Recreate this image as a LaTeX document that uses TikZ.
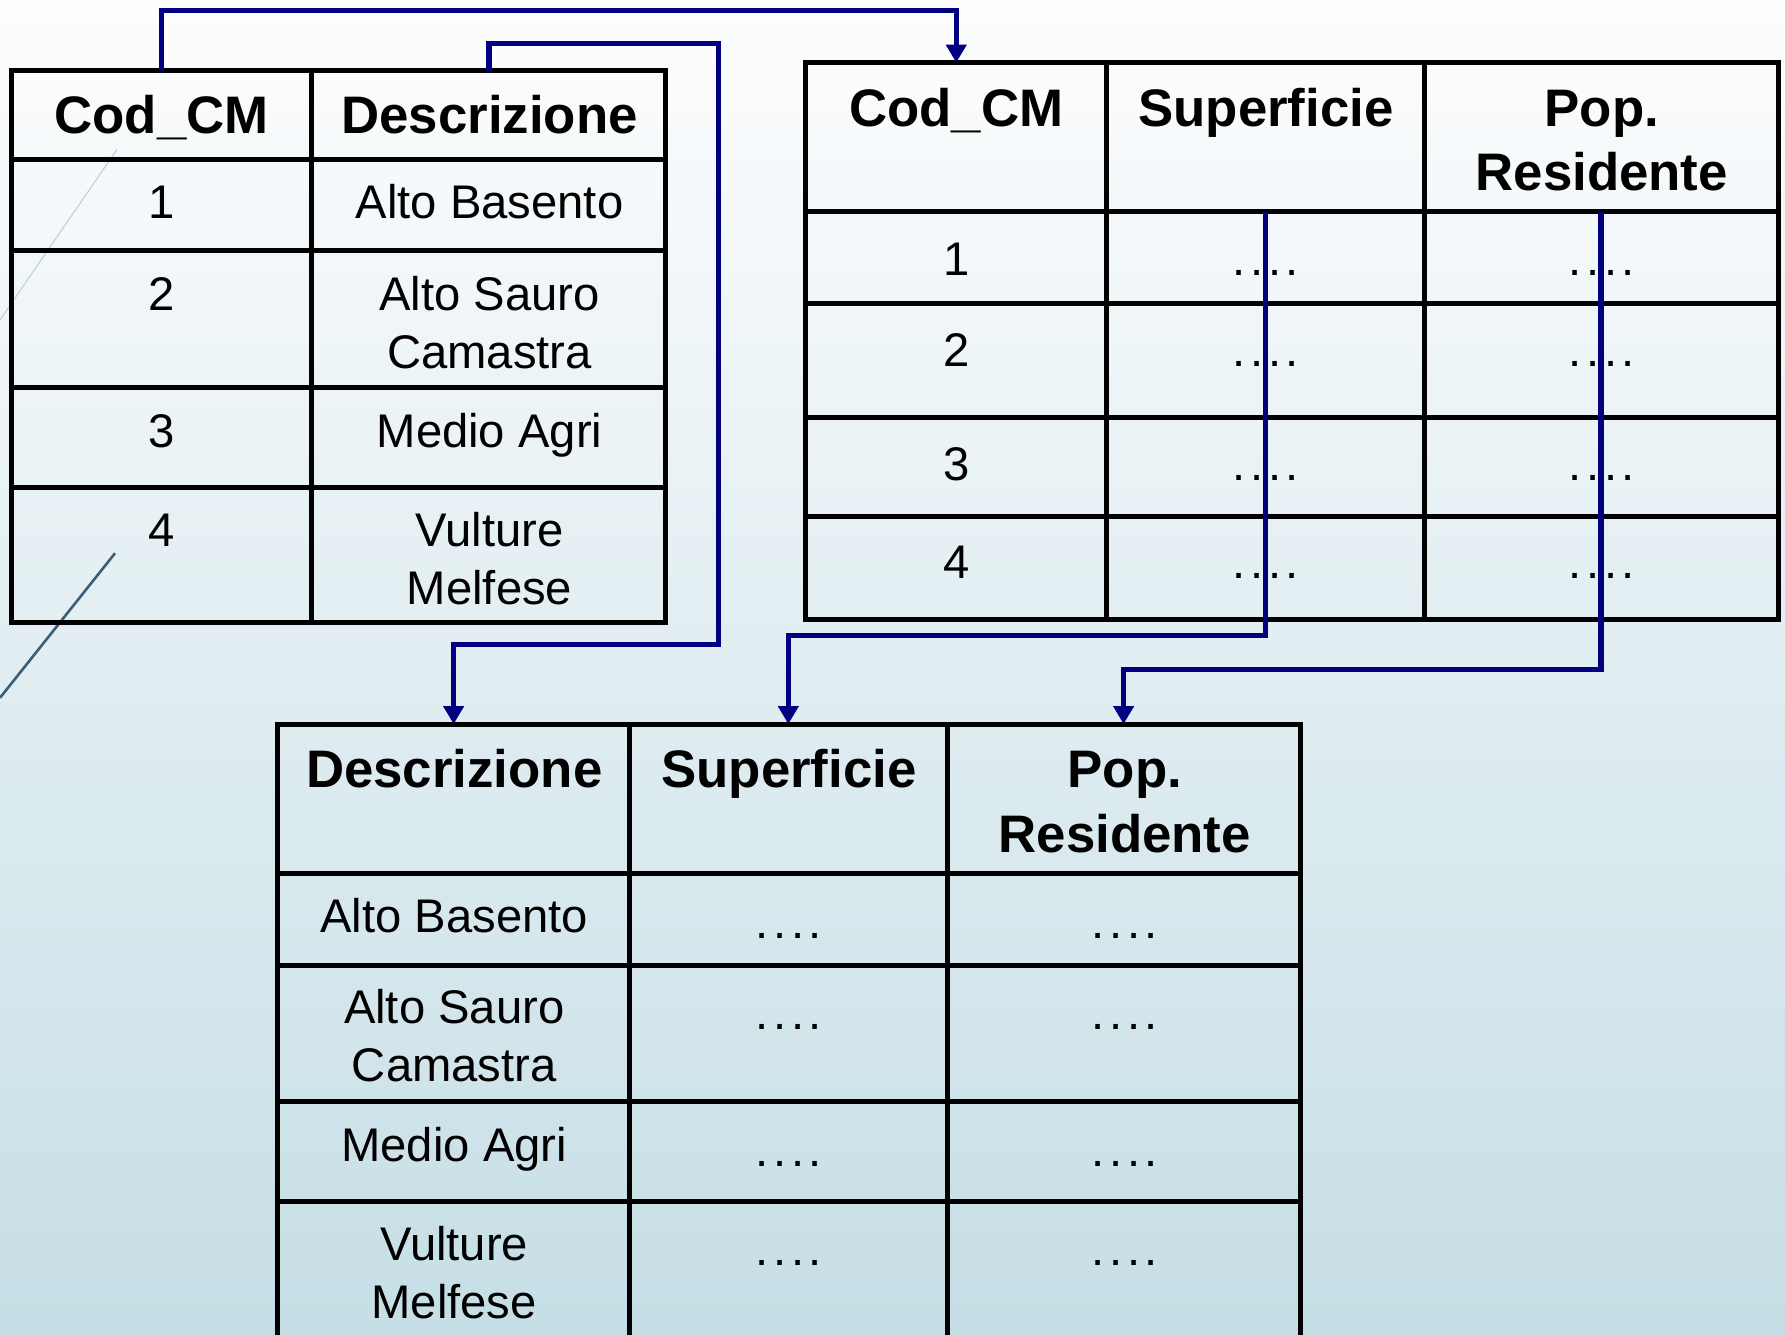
\documentclass[tikz,border=0pt]{standalone}
\usepackage{fontspec}
\setmainfont{Liberation Sans}
\usetikzlibrary{arrows.meta}
\definecolor{navyline}{RGB}{0,0,128}
\definecolor{bgtop}{RGB}{253,253,254}
\definecolor{bgbot}{RGB}{197,222,229}
\definecolor{decoA}{RGB}{196,210,220}
\definecolor{decoB}{RGB}{58,94,118}
\newcommand\regfont{\fontsize{23.6pt}{28pt}\selectfont}
\newcommand\hdrfont{\fontsize{26.4pt}{31pt}\selectfont\bfseries}
\newcommand\fourdots{.\kern2.3pt.\kern2.3pt.\kern2.3pt.}
\newcommand\tcell[5]{\node[cell, minimum width={(#4-#2)*0.5692pt}, minimum height={(#5-#3)*0.5692pt}] (#1) at ({(#2+#4)/2},{(#3+#5)/2}) {};}
\begin{document}
\begin{tikzpicture}[x=0.5692pt, y=-0.5692pt,
  cell/.style={draw=black, line width=2.5pt, rectangle, inner sep=0pt, outer sep=0pt},
  tx/.style={anchor=base, inner sep=0pt, font=\regfont},
  hd/.style={anchor=base, inner sep=0pt, font=\hdrfont},
  conn/.style={draw=navyline, line width=2.7pt, line join=miter, -{Triangle[width=10pt,length=9pt]}}]
\useasboundingbox (0,0) rectangle (1568,1172);
\clip (0,0) rectangle (1568,1172);
\fill[top color=bgtop, bottom color=bgbot] (0,0) rectangle (1568,1172);
% decorative slide lines
\draw[decoA, line width=0.6pt] (103,131) -- (0,281);
\draw[decoB, line width=1.3pt] (101,486) -- (0,613);
% ---------- Table 1 ----------
\tcell{t1h1}{10}{62}{274}{140}
\tcell{t1h2}{274}{62}{585}{140}
\tcell{t1r1a}{10}{140}{274}{220}
\tcell{t1r1b}{274}{140}{585}{220}
\tcell{t1r2a}{10}{220}{274}{340}
\tcell{t1r2b}{274}{220}{585}{340}
\tcell{t1r3a}{10}{340}{274}{428}
\tcell{t1r3b}{274}{340}{585}{428}
\tcell{t1r4a}{10}{428}{274}{547}
\tcell{t1r4b}{274}{428}{585}{547}
\node[hd] (t1h1x) at (142,117) {Cod\_CM};
\node[hd] (t1h2x) at (430,117) {Descrizione};
\node[tx] (t1r1ax) at (142,192) {1};
\node[tx] (t1r1bx) at (430,192) {Alto Basento};
\node[tx] (t1r2ax) at (142,273) {2};
\node[tx] (t1r2bx) at (430,273) {Alto Sauro};
\node[tx] (t1r2by) at (430,324) {Camastra};
\node[tx] (t1r3ax) at (142,393) {3};
\node[tx] (t1r3bx) at (430,393) {Medio Agri};
\node[tx] (t1r4ax) at (142,480) {4};
\node[tx] (t1r4bx) at (430,480) {Vulture};
\node[tx] (t1r4by) at (430,531) {Melfese};
% ---------- Table 2 ----------
\tcell{t2h1}{708}{55}{972}{186}
\tcell{t2h2}{972}{55}{1251}{186}
\tcell{t2h3}{1251}{55}{1562}{186}
\tcell{t2r1a}{708}{186}{972}{267}
\tcell{t2r1b}{972}{186}{1251}{267}
\tcell{t2r1c}{1251}{186}{1562}{267}
\tcell{t2r2a}{708}{267}{972}{367}
\tcell{t2r2b}{972}{267}{1251}{367}
\tcell{t2r2c}{1251}{267}{1562}{367}
\tcell{t2r3a}{708}{367}{972}{454}
\tcell{t2r3b}{972}{367}{1251}{454}
\tcell{t2r3c}{1251}{367}{1562}{454}
\tcell{t2r4a}{708}{454}{972}{544}
\tcell{t2r4b}{972}{454}{1251}{544}
\tcell{t2r4c}{1251}{454}{1562}{544}
\node[hd] (t2h1x) at (840,111) {Cod\_CM};
\node[hd] (t2h2x) at (1112,111) {Superficie};
\node[hd] (t2h3x) at (1407,111) {Pop.};
\node[hd] (t2h3y) at (1407,167) {Residente};
\node[tx] (t2r1ax) at (840,242) {1};
\node[tx] (t2r1bx) at (1112,242) {\fourdots};
\node[tx] (t2r1cx) at (1407,242) {\fourdots};
\node[tx] (t2r2ax) at (840,322) {2};
\node[tx] (t2r2bx) at (1112,322) {\fourdots};
\node[tx] (t2r2cx) at (1407,322) {\fourdots};
\node[tx] (t2r3ax) at (840,422) {3};
\node[tx] (t2r3bx) at (1112,422) {\fourdots};
\node[tx] (t2r3cx) at (1407,422) {\fourdots};
\node[tx] (t2r4ax) at (840,508) {4};
\node[tx] (t2r4bx) at (1112,508) {\fourdots};
\node[tx] (t2r4cx) at (1407,508) {\fourdots};
% ---------- Table 3 ----------
\tcell{t3h1}{244}{636}{553}{767}
\tcell{t3h2}{553}{636}{832}{767}
\tcell{t3h3}{832}{636}{1142}{767}
\tcell{t3r1a}{244}{767}{553}{848}
\tcell{t3r1b}{553}{767}{832}{848}
\tcell{t3r1c}{832}{767}{1142}{848}
\tcell{t3r2a}{244}{848}{553}{968}
\tcell{t3r2b}{553}{848}{832}{968}
\tcell{t3r2c}{832}{848}{1142}{968}
\tcell{t3r3a}{244}{968}{553}{1055}
\tcell{t3r3b}{553}{968}{832}{1055}
\tcell{t3r3c}{832}{968}{1142}{1055}
\tcell{t3r4a}{244}{1055}{553}{1200}
\tcell{t3r4b}{553}{1055}{832}{1200}
\tcell{t3r4c}{832}{1055}{1142}{1200}
\node[hd] (t3h1x) at (399,692) {Descrizione};
\node[hd] (t3h2x) at (693,692) {Superficie};
\node[hd] (t3h3x) at (988,692) {Pop.};
\node[hd] (t3h3y) at (988,749) {Residente};
\node[tx] (t3r1ax) at (399,819) {Alto Basento};
\node[tx] (t3r1bx) at (693,824) {\fourdots};
\node[tx] (t3r1cx) at (988,824) {\fourdots};
\node[tx] (t3r2ax) at (399,899) {Alto Sauro};
\node[tx] (t3r2ay) at (399,950) {Camastra};
\node[tx] (t3r2bx) at (693,904) {\fourdots};
\node[tx] (t3r2cx) at (988,904) {\fourdots};
\node[tx] (t3r3ax) at (399,1020) {Medio Agri};
\node[tx] (t3r3bx) at (693,1025) {\fourdots};
\node[tx] (t3r3cx) at (988,1025) {\fourdots};
\node[tx] (t3r4ax) at (399,1107) {Vulture};
\node[tx] (t3r4ay) at (399,1158) {Melfese};
\node[tx] (t3r4bx) at (693,1112) {\fourdots};
\node[tx] (t3r4cx) at (988,1112) {\fourdots};
% ---------- Connectors ----------
\coordinate (c2a) at (631,38);
\coordinate (c2b) at (631,566);
\draw[conn] (t1h1.north) -- ++(0,-53) -| (t2h1.north);
\draw[conn] (t1h2.north) |- (c2a) -- (c2b) -| (t3h1.north);
\draw[conn] (t2h2.south) -- ++(0,372) -| (t3h2.north);
\draw[conn] (t2h3.south) -- ++(0,402) -| (t3h3.north);
\end{tikzpicture}
\end{document}
